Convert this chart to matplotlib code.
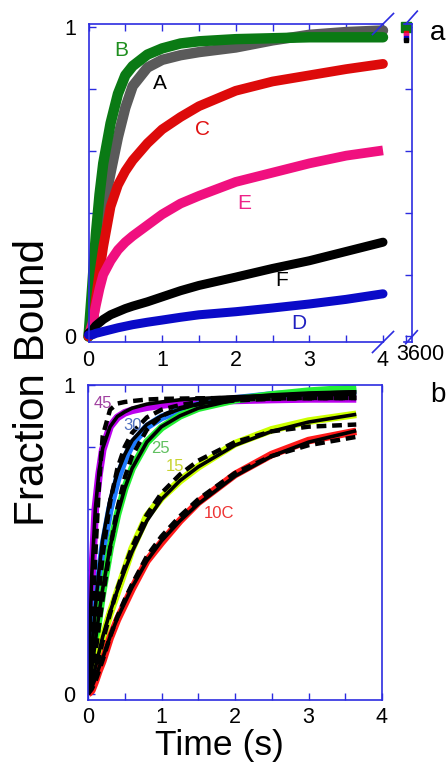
import numpy as np
import matplotlib
matplotlib.use('Agg')
import matplotlib.pyplot as plt
from matplotlib.ticker import MultipleLocator

plt.rcParams['font.family'] = ['Liberation Sans', 'DejaVu Sans']

# ---- panel a : time grid (s) and fraction bound for each trace
t_a = [0, 0.05, 0.1, 0.15, 0.2, 0.3, 0.4, 0.5, 0.6, 0.8, 1.0, 1.25, 1.5, 2.0, 2.5, 3.0, 3.5, 4.0]
A = [0, 0.08, 0.2, 0.31, 0.41, 0.53, 0.645, 0.74, 0.81, 0.87, 0.895, 0.91, 0.92, 0.935, 0.958, 0.976, 0.985, 0.99]
B = [0, 0.16, 0.33, 0.46, 0.56, 0.69, 0.785, 0.845, 0.875, 0.912, 0.932, 0.948, 0.955, 0.962, 0.965, 0.968, 0.968, 0.968]
C = [0, 0.02, 0.12, 0.21, 0.29, 0.42, 0.49, 0.535, 0.57, 0.625, 0.67, 0.71, 0.745, 0.795, 0.825, 0.845, 0.865, 0.882]
D = [0.005, 0.005, 0.01, 0.013, 0.016, 0.022, 0.028, 0.033, 0.038, 0.046, 0.053, 0.062, 0.07, 0.08, 0.092, 0.105, 0.12, 0.138]
E = [0, 0.04, 0.1, 0.155, 0.2, 0.245, 0.28, 0.305, 0.325, 0.36, 0.395, 0.43, 0.455, 0.5, 0.53, 0.56, 0.585, 0.602]
F = [0.01, 0.02, 0.035, 0.045, 0.055, 0.07, 0.08, 0.09, 0.098, 0.112, 0.128, 0.148, 0.165, 0.192, 0.22, 0.245, 0.275, 0.305]
# values at 3600 s
end_B = 1.0
end_C, end_E, end_D, end_F = 0.982, 0.975, 0.967, 0.96

# ---- panel b : temperature series, data + two fits
t_b = [0, 0.05, 0.1, 0.15, 0.2, 0.3, 0.4, 0.5, 0.6, 0.8, 1.0, 1.25, 1.5, 2.0, 2.5, 3.0, 3.65]
d45 = [0, 0.36, 0.6, 0.71, 0.79, 0.865, 0.895, 0.91, 0.918, 0.928, 0.935, 0.942, 0.946, 0.95, 0.953, 0.955, 0.955]
s45 = [0, 0.38, 0.6, 0.72, 0.795, 0.865, 0.898, 0.913, 0.925, 0.938, 0.945, 0.952, 0.956, 0.962, 0.966, 0.968, 0.97]
k45 = [0, 0.2, 0.45, 0.68, 0.835, 0.92, 0.94, 0.945, 0.948, 0.953, 0.955, 0.956, 0.957, 0.958, 0.958, 0.958, 0.958]
d30 = [0, 0.12, 0.25, 0.37, 0.47, 0.6, 0.695, 0.76, 0.81, 0.865, 0.895, 0.918, 0.935, 0.955, 0.968, 0.975, 0.98]
s30 = [0, 0.14, 0.28, 0.4, 0.5, 0.63, 0.715, 0.775, 0.82, 0.872, 0.9, 0.922, 0.938, 0.958, 0.968, 0.974, 0.978]
k30 = [0, 0.08, 0.2, 0.33, 0.45, 0.62, 0.73, 0.8, 0.845, 0.895, 0.92, 0.935, 0.945, 0.953, 0.956, 0.958, 0.958]
d25 = [0, 0.07, 0.16, 0.25, 0.33, 0.47, 0.58, 0.665, 0.73, 0.815, 0.862, 0.9, 0.925, 0.952, 0.968, 0.98, 0.99]
s25 = [0, 0.08, 0.17, 0.26, 0.34, 0.475, 0.58, 0.665, 0.73, 0.815, 0.865, 0.9, 0.925, 0.952, 0.965, 0.972, 0.978]
k25 = [0, 0.05, 0.13, 0.22, 0.31, 0.47, 0.6, 0.7, 0.77, 0.855, 0.9, 0.925, 0.938, 0.95, 0.955, 0.957, 0.958]
d15 = [0, 0.03, 0.08, 0.13, 0.18, 0.26, 0.33, 0.4, 0.47, 0.575, 0.635, 0.69, 0.735, 0.81, 0.855, 0.883, 0.905]
s15 = [0, 0.035, 0.085, 0.135, 0.185, 0.265, 0.335, 0.4, 0.46, 0.56, 0.63, 0.69, 0.735, 0.805, 0.85, 0.88, 0.905]
k15 = [0, 0.025, 0.07, 0.12, 0.17, 0.26, 0.34, 0.41, 0.475, 0.58, 0.65, 0.71, 0.755, 0.815, 0.85, 0.865, 0.872]
d10 = [0, 0.01, 0.04, 0.075, 0.105, 0.18, 0.24, 0.29, 0.34, 0.43, 0.49, 0.56, 0.62, 0.71, 0.775, 0.82, 0.85]
s10 = [0, 0.02, 0.05, 0.085, 0.115, 0.185, 0.245, 0.295, 0.345, 0.43, 0.495, 0.56, 0.615, 0.705, 0.77, 0.815, 0.852]
k10 = [0, 0.015, 0.04, 0.075, 0.11, 0.185, 0.25, 0.305, 0.355, 0.445, 0.51, 0.575, 0.63, 0.715, 0.77, 0.805, 0.832]

blue = '#2c2ce0'
W, H = 446, 763

def box(l, r, t, b):
    return [l / W, (H - b) / H, (r - l) / W, (b - t) / H]

fig = plt.figure(figsize=(W / 100, H / 100), dpi=100)

# ================= panel a =================
ax = fig.add_axes(box(88.5, 383, 24, 342))
ax2 = fig.add_axes(box(404, 411.5, 24, 342))

ax.plot(t_a, A, color='#5a5a5a', lw=7.5, solid_capstyle='round', clip_on=False)
ax.plot(t_a, B, color='#0a7a14', lw=7.5, solid_capstyle='round', clip_on=False)
ax.plot(t_a, C, color='#dd0a0a', lw=7, solid_capstyle='round', clip_on=False)
ax.plot(t_a, E, color='#f0107f', lw=7, solid_capstyle='butt', clip_on=False)
ax.plot(t_a, F, color='black', lw=6.5, solid_capstyle='round', clip_on=False)
ax.plot(t_a, D, color='#0a0ac8', lw=6.5, solid_capstyle='round', clip_on=False)

ax.set_xlim(0, 4)
ax.set_ylim(-0.018, 1.011)
ax.set_xticks([0, 1, 2, 3, 4])
ax.xaxis.set_minor_locator(MultipleLocator(0.5))
ax.set_yticks([0, 0.2, 0.4, 0.6, 0.8, 1.0])
ax.set_yticklabels(['0', '', '', '', '', '1'])
ax.tick_params(which='both', direction='in', top=True, bottom=True, left=True, right=False,
               length=5, width=1, color=blue, labelsize=15.5, pad=6)
ax.tick_params(axis='y', pad=9)
ax.spines['right'].set_visible(False)
for s in ['left', 'top', 'bottom']:
    ax.spines[s].set_color(blue)
    ax.spines[s].set_linewidth(1.2)

ax2.plot([3600], [end_B], marker='s', ms=7, color='#0a7a14', ls='none', clip_on=False)
ax2.plot([3600], [end_C], marker='s', ms=2.5, color='#dd0a0a', ls='none', clip_on=False)
ax2.plot([3600], [end_E], marker='s', ms=2.5, color='#f0107f', ls='none', clip_on=False)
ax2.plot([3600], [end_D], marker='s', ms=2.5, color='#0a0ac8', ls='none', clip_on=False)
ax2.plot([3600], [end_F], marker='s', ms=2.5, color='black', ls='none', clip_on=False)
ax2.set_xlim(3599, 3603)
ax2.set_ylim(-0.018, 1.011)
ax2.set_xticks([3600])
ax2.set_xticklabels([])
ax2.set_yticks([0, 0.2, 0.4, 0.6, 0.8, 1.0])
ax2.yaxis.tick_right()
ax2.set_yticklabels([])
ax2.tick_params(direction='in', length=5, width=1, color=blue)
ax2.spines['left'].set_visible(False)
for s in ['right', 'top', 'bottom']:
    ax2.spines[s].set_color(blue)
    ax2.spines[s].set_linewidth(1.2)
ax2.patch.set_visible(False)

# break marks
dx, dy = 10.5 / 294.5, 10.5 / 318
for yy in (0, 1):
    ax.plot([1 - dx, 1 + dx], [yy - dy, yy + dy], transform=ax.transAxes,
            color=blue, lw=1.2, clip_on=False)
dx2, dy2 = 5.8 / 7.5, 6.5 / 318
for yy in (0.015, 1.02):
    ax2.plot([1 - dx2, 1 + dx2], [yy - dy2, yy + dy2], transform=ax2.transAxes,
             color=blue, lw=1.2, clip_on=False)
fig.text(420 / W, 1 - 355 / H, '3600', fontsize=15.5, ha='center', va='center')

ax.text(0.44, 0.925, 'B', color='#1f8f1f', fontsize=15, ha='center', va='center')
ax.text(0.97, 0.82, 'A', color='black', fontsize=15, ha='center', va='center')
ax.text(1.55, 0.67, 'C', color='#e01010', fontsize=15, ha='center', va='center')
ax.text(2.12, 0.43, 'E', color='#ee2288', fontsize=15, ha='center', va='center')
ax.text(2.62, 0.18, 'F', color='black', fontsize=15, ha='center', va='center')
ax.text(2.85, 0.042, 'D', color='#2020c0', fontsize=15, ha='center', va='center')
fig.text(438 / W, 1 - 33 / H, 'a', fontsize=20, ha='center', va='center')

# ================= panel b =================
bx = fig.add_axes(box(88, 382, 385, 700))
series = [
    (d45, s45, k45, '#bb00ee'),
    (d30, s30, k30, '#1e7bff'),
    (d25, s25, k25, '#22ee33'),
    (d15, s15, k15, '#ccff00'),
    (d10, s10, k10, '#ff1a1a'),
]
for d, s, k, c in series:
    bx.plot(t_b, d, color=c, lw=5.5, solid_capstyle='butt')
for d, s, k, c in series:
    bx.plot(t_b, s, color='black', lw=2.6, solid_capstyle='butt')
    bx.plot(t_b, k, color='black', lw=3.2, ls=(0, (2.2, 1.3)))

bx.set_xlim(0, 4)
bx.set_ylim(-0.02, 1.0)
bx.set_xticks([0, 1, 2, 3, 4])
bx.xaxis.set_minor_locator(MultipleLocator(0.5))
bx.set_yticks([0, 0.2, 0.4, 0.6, 0.8, 1.0])
bx.set_yticklabels(['0', '', '', '', '', '1'])
bx.tick_params(which='both', direction='in', top=True, bottom=True, left=True, right=False,
               length=5, width=1, color=blue, labelsize=15.5, pad=5)
bx.tick_params(axis='y', pad=9)
for s in bx.spines.values():
    s.set_color(blue)
    s.set_linewidth(1.2)

bx.text(0.2, 0.94, '45', color='#a040a0', fontsize=12, ha='center', va='center')
bx.text(0.6, 0.87, '30', color='#5070c0', fontsize=12, ha='center', va='center')
bx.text(0.99, 0.795, '25', color='#60c060', fontsize=12, ha='center', va='center')
bx.text(1.18, 0.735, '15', color='#c8d430', fontsize=12, ha='center', va='center')
bx.text(1.78, 0.585, '10C', color='#ee3333', fontsize=12, ha='center', va='center')
fig.text(438 / W, 1 - 395 / H, 'b', fontsize=20, ha='center', va='center')

fig.text(219 / W, 1 - 755.5 / H, 'Time (s)', fontsize=25.5, ha='center', va='baseline')
fig.text(33 / W, 1 - 382 / H, 'Fraction Bound', fontsize=30.5, rotation=90,
         ha='center', va='center')

fig.savefig('out.png', dpi=100)
